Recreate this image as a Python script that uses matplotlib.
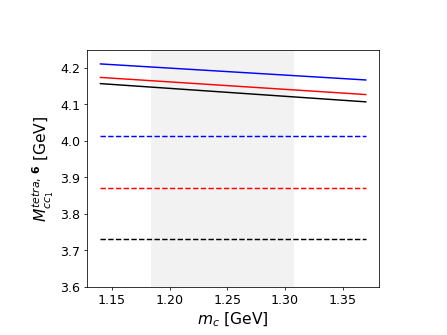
import numpy as np
from matplotlib import pyplot as plt

# charm quark mass values (GeV)
mc = [1.14, 1.37]

# solid curves
m_blue = [4.211, 4.167]
m_red = [4.174, 4.127]
m_black = [4.157, 4.107]

# dashed constant levels
lvl_blue = 4.014
lvl_red = 3.871
lvl_black = 3.731

# shaded band of mc
band = (1.184, 1.308)

f = plt.figure(figsize=(6.4, 4.8))
ax = f.add_axes([0.195, 0.144, 0.653, 0.707])

ax.axvspan(band[0], band[1], color='gray', alpha=0.1, lw=0)

ax.plot(mc, m_blue, color='b', lw=1.5)
ax.plot(mc, m_red, color='r', lw=1.5)
ax.plot(mc, m_black, color='k', lw=1.5)
ax.plot(mc, [lvl_blue]*len(mc), 'b--', lw=1.5)
ax.plot(mc, [lvl_red]*len(mc), 'r--', lw=1.5)
ax.plot(mc, [lvl_black]*len(mc), 'k--', lw=1.5)

ax.set_ylim(3.6, 4.25)
ax.set_xticks([1.15, 1.20, 1.25, 1.30, 1.35])
ax.set_yticks(np.arange(3.6, 4.21, 0.1))
ax.tick_params(labelsize=13)
ax.set_xlabel(r'$m_c$ [GeV]', fontsize=16)
ax.set_ylabel(r'$M^{tetra,\,\mathbf{6}}_{cc_1}$ [GeV]', fontsize=16)

plt.savefig('out.png', dpi=447/6.4)
